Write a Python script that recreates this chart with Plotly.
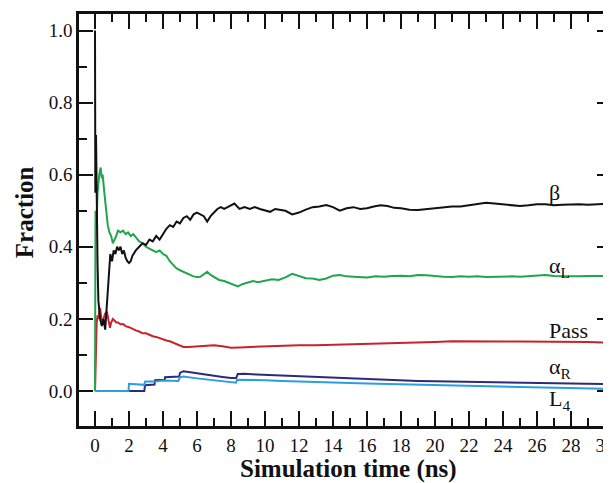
import plotly.graph_objects as go

# ---- data ----
beta_t = [0, 0.02, 0.06, 0.1, 0.15, 0.2, 0.3, 0.4, 0.5, 0.6, 0.7, 0.8, 0.9, 1.0, 1.1, 1.2, 1.3, 1.4, 1.5,
          1.6, 1.7, 1.8, 1.9, 2.0, 2.1, 2.2, 2.4, 2.6, 2.8, 3.0, 3.2, 3.4, 3.6, 3.8, 4.0, 4.2, 4.4, 4.6,
          4.8, 5.0, 5.2, 5.4, 5.6, 5.8, 6.0, 6.2, 6.4, 6.6, 6.8, 7.0, 7.2, 7.4, 7.6, 7.8, 8.0, 8.2, 8.5,
          8.8, 9.1, 9.4, 9.7, 10.0, 10.3, 10.6, 10.9, 11.2, 11.6, 12.0, 12.4, 12.8, 13.2, 13.6, 14.0,
          14.4, 14.8, 15.2, 15.6, 16.0, 16.4, 16.8, 17.2, 17.6, 18.0, 18.5, 19.0, 19.5, 20.0, 20.5, 21.0,
          21.5, 22.0, 22.5, 23.0, 23.5, 24.0, 24.5, 25.0, 25.5, 26.0, 26.5, 27.0, 27.5, 28.0, 28.5, 29.0,
          29.5, 30.0]
beta_v = [1.0, 0.55, 0.71, 0.5, 0.35, 0.25, 0.2, 0.18, 0.2, 0.17, 0.24, 0.33, 0.38, 0.36, 0.39, 0.38, 0.40,
          0.39, 0.40, 0.38, 0.39, 0.37, 0.36, 0.355, 0.36, 0.375, 0.39, 0.40, 0.41, 0.405, 0.42, 0.415,
          0.43, 0.42, 0.435, 0.45, 0.46, 0.455, 0.47, 0.465, 0.48, 0.485, 0.475, 0.49, 0.495, 0.49, 0.485,
          0.47, 0.485, 0.495, 0.505, 0.51, 0.505, 0.51, 0.515, 0.52, 0.505, 0.51, 0.505, 0.51, 0.505, 0.5,
          0.497, 0.505, 0.503, 0.5, 0.49, 0.495, 0.503, 0.51, 0.512, 0.516, 0.51, 0.5, 0.507, 0.51, 0.505,
          0.507, 0.512, 0.515, 0.513, 0.508, 0.507, 0.503, 0.502, 0.505, 0.508, 0.51, 0.512, 0.512, 0.515,
          0.52, 0.522, 0.52, 0.517, 0.515, 0.513, 0.515, 0.518, 0.518, 0.515, 0.517, 0.518, 0.518, 0.517,
          0.519, 0.519]

alphaL_t = [0, 0.03, 0.08, 0.15, 0.25, 0.33, 0.4, 0.45, 0.55, 0.65, 0.75, 0.85, 0.95, 1.05, 1.15, 1.25,
            1.35, 1.5, 1.65, 1.8, 1.95, 2.1, 2.25, 2.4, 2.6, 2.8, 3.0, 3.2, 3.4, 3.6, 3.8, 4.0, 4.2, 4.4,
            4.6, 4.8, 5.0, 5.2, 5.4, 5.6, 5.8, 6.0, 6.2, 6.4, 6.6, 6.8, 7.0, 7.3, 7.6, 7.9, 8.2, 8.4, 8.7,
            9.0, 9.3, 9.6, 10.0, 10.4, 10.8, 11.2, 11.6, 12.0, 12.4, 12.8, 13.2, 13.6, 14.0, 14.4, 14.8,
            15.2, 15.6, 16.0, 16.5, 17.0, 17.5, 18.0, 18.5, 19.0, 19.5, 20.0, 20.5, 21.0, 21.5, 22.0, 22.5,
            23.0, 23.5, 24.0, 24.5, 25.0, 25.5, 26.0, 26.5, 27.0, 27.5, 28.0, 28.5, 29.0, 29.5, 30.0]
alphaL_v = [0.0, 0.5, 0.45, 0.55, 0.6, 0.62, 0.59, 0.6, 0.55, 0.5, 0.46, 0.44, 0.43, 0.41, 0.42, 0.43,
            0.445, 0.44, 0.445, 0.435, 0.44, 0.43, 0.435, 0.425, 0.415, 0.41, 0.40, 0.395, 0.39, 0.385,
            0.39, 0.38, 0.375, 0.36, 0.35, 0.34, 0.335, 0.33, 0.325, 0.322, 0.318, 0.316, 0.317, 0.325,
            0.331, 0.322, 0.316, 0.308, 0.305, 0.3, 0.295, 0.29, 0.297, 0.3, 0.305, 0.302, 0.307, 0.31,
            0.308, 0.315, 0.325, 0.318, 0.313, 0.312, 0.308, 0.312, 0.32, 0.322, 0.318, 0.317, 0.316,
            0.315, 0.318, 0.317, 0.319, 0.32, 0.318, 0.322, 0.321, 0.318, 0.317, 0.316, 0.318, 0.317,
            0.318, 0.316, 0.317, 0.316, 0.318, 0.317, 0.319, 0.32, 0.322, 0.319, 0.318, 0.319, 0.318,
            0.319, 0.318, 0.319]

pass_t = [0, 0.05, 0.1, 0.15, 0.2, 0.25, 0.3, 0.35, 0.4, 0.5, 0.6, 0.7, 0.8, 0.88, 0.95, 1.05, 1.15, 1.25,
          1.35, 1.5, 1.65, 1.8, 2.0, 2.2, 2.4, 2.6, 2.8, 3.0, 3.2, 3.4, 3.6, 3.8, 4.0, 4.2, 4.4, 4.6, 4.8,
          5.0, 5.2, 5.5, 6.0, 6.5, 7.0, 7.5, 8.0, 8.5, 9.0, 10.0, 11.0, 11.5, 12.0, 13.0, 14.0, 15.0, 16.0,
          17.0, 18.0, 19.0, 20.0, 21.0, 22.0, 23.0, 24.0, 25.0, 26.0, 27.0, 28.0, 29.0, 30.0]
pass_v = [0.0, 0.12, 0.19, 0.21, 0.2, 0.22, 0.23, 0.21, 0.19, 0.2, 0.215, 0.22, 0.19, 0.175, 0.19, 0.2,
          0.195, 0.19, 0.19, 0.185, 0.186, 0.18, 0.177, 0.172, 0.168, 0.165, 0.16, 0.16, 0.155, 0.152,
          0.15, 0.146, 0.142, 0.14, 0.138, 0.134, 0.13, 0.125, 0.122, 0.122, 0.123, 0.124, 0.127, 0.124,
          0.12, 0.121, 0.122, 0.124, 0.126, 0.128, 0.127, 0.127, 0.128, 0.13, 0.131, 0.133, 0.134, 0.135,
          0.136, 0.138, 0.137, 0.136, 0.137, 0.137, 0.137, 0.137, 0.137, 0.136, 0.134]

alphaR_t = [0, 2.9, 2.94, 3.5, 3.53, 4.1, 4.12, 4.95, 5.0, 5.2, 5.5, 6.0, 6.5, 7.0, 7.5, 8.0, 8.3, 8.4, 8.8,
            9.5, 10, 11, 12, 13, 14, 15, 16, 17, 18, 19, 20, 21, 22, 23, 24, 25, 26, 27, 28, 29, 30]
alphaR_v = [0.0, 0.0, 0.016, 0.018, 0.03, 0.031, 0.038, 0.04, 0.05, 0.055, 0.053, 0.049, 0.046, 0.042,
            0.039, 0.036, 0.036, 0.047, 0.048, 0.046, 0.045, 0.042, 0.04, 0.038, 0.036, 0.034, 0.032,
            0.031, 0.029, 0.028, 0.027, 0.026, 0.025, 0.024, 0.023, 0.022, 0.021, 0.021, 0.02, 0.02, 0.019]

L4_t = [0, 1.97, 2.0, 2.9, 2.95, 3.5, 4.0, 4.9, 5.0, 5.2, 6.0, 7.0, 8.0, 8.3, 8.35, 9.0, 10, 11, 12, 13,
        14, 15, 16, 17, 18, 19, 20, 21, 22, 23, 24, 25, 26, 27, 28, 29, 30]
L4_v = [0.0, 0.0, 0.02, 0.017, 0.026, 0.026, 0.029, 0.028, 0.038, 0.04, 0.035, 0.029, 0.024, 0.023, 0.031,
        0.031, 0.03, 0.028, 0.026, 0.025, 0.024, 0.022, 0.021, 0.02, 0.019, 0.018, 0.017, 0.016, 0.015,
        0.014, 0.013, 0.012, 0.011, 0.01, 0.009, 0.008, 0.006]

series = [
    ("Pass", pass_t, pass_v, "#c8232c"),
    ("αL", alphaL_t, alphaL_v, "#1fa64d"),
    ("β", beta_t, beta_v, "#111111"),
    ("αR", alphaR_t, alphaR_v, "#2d2a78"),
    ("L4", L4_t, L4_v, "#2b9ee0"),
]

labels = ["β", "α<sub>L</sub>", "Pass", "α<sub>R</sub>", "L<sub>4</sub>"]
label_x = [26.6, 26.6, 26.6, 26.6, 26.6]
label_y = [0.552, 0.344, 0.169, 0.064, -0.025]

x_ticks = list(range(0, 31, 2))
y_ticks = [0.0, 0.2, 0.4, 0.6, 0.8, 1.0]

x_title = "Simulation time (ns)"
y_title = "Fraction"

FONT = "Liberation Serif, Times New Roman, serif"

fig = go.Figure()
for name, t, v, c in series:
    fig.add_trace(go.Scatter(x=t, y=v, mode="lines", name=name,
                             line=dict(color=c, width=2.0), showlegend=False))

for txt, xx, yy in zip(labels, label_x, label_y):
    fig.add_annotation(x=xx, y=yy, text=txt, showarrow=False, xanchor="left", yanchor="middle",
                       font=dict(family=FONT, size=22, color="#111111"))

# axis titles placed as annotations (paper coordinates)
fig.add_annotation(xref="paper", yref="paper", x=0.506, y=-0.104, text=f"<b>{x_title}</b>",
                   showarrow=False, xanchor="center", yanchor="middle",
                   font=dict(family=FONT, size=25, color="#111111"))
fig.add_annotation(xref="paper", yref="paper", x=-0.1034, y=0.519, text=f"<b>{y_title}</b>",
                   showarrow=False, xanchor="center", yanchor="middle", textangle=-90,
                   font=dict(family=FONT, size=25, color="#111111"))

# the page body has an 8px default margin, so the figure is 8px smaller and margins shifted
fig.update_layout(
    width=603, height=475,
    margin=dict(l=71, r=0, t=6, b=57, autoexpand=False),
    paper_bgcolor="white", plot_bgcolor="white",
    font=dict(family=FONT, color="#111111"),
)
fig.update_xaxes(
    range=[-0.941, 30.353], tickvals=x_ticks, ticktext=[str(x) for x in x_ticks],
    showgrid=False, zeroline=False, showline=True, linecolor="#111111", linewidth=2.5,
    mirror="ticks", ticks="inside", ticklen=15, tickwidth=2, tickcolor="#111111",
    minor=dict(dtick=1, tick0=0, ticks="inside", ticklen=8, tickwidth=2, tickcolor="#111111", showgrid=False),
    tickfont=dict(size=19, family=FONT), automargin=False, ticklabeloverflow="allow",
)
fig.update_yaxes(
    range=[-0.0971, 1.0458], tickvals=y_ticks, ticktext=[f"{y:.1f}" for y in y_ticks],
    showgrid=False, zeroline=False, showline=True, linecolor="#111111", linewidth=2.5,
    mirror="ticks", ticks="inside", ticklen=14, tickwidth=2, tickcolor="#111111",
    minor=dict(dtick=0.1, tick0=0, ticks="inside", ticklen=8, tickwidth=2, tickcolor="#111111", showgrid=False),
    tickfont=dict(size=19, family=FONT), automargin=False, ticklabeloverflow="allow",
)

fig.write_html("out.html")
